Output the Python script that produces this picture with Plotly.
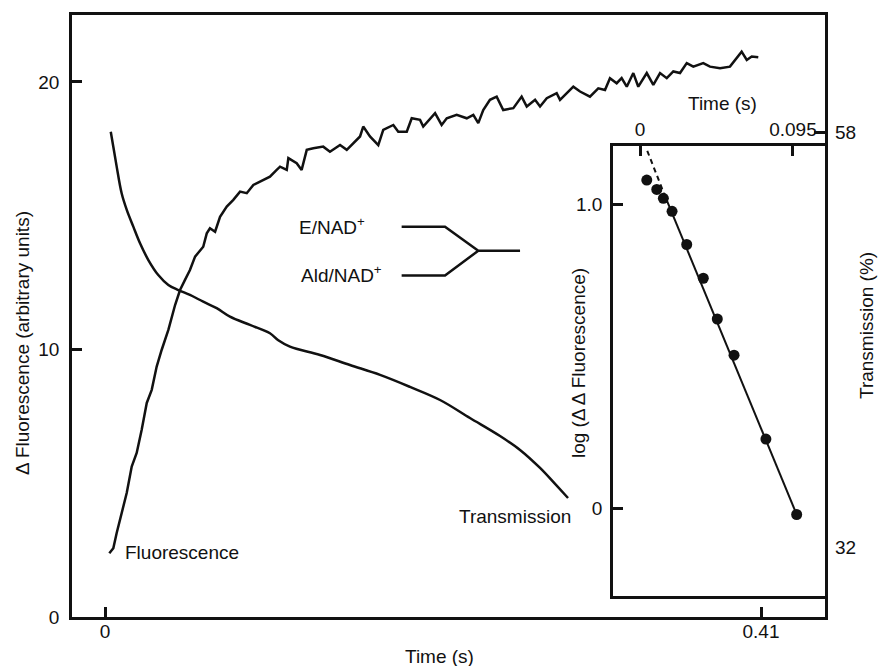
import plotly.graph_objects as go

# ---------------- data ----------------
fluor_t = [0.0027, 0.0052, 0.0073, 0.0104, 0.0136, 0.0167, 0.0198, 0.0229, 0.0261, 0.0292,
           0.0323, 0.0354, 0.0396, 0.0438, 0.0469, 0.0500, 0.0531, 0.0563, 0.0583, 0.0614,
           0.0636, 0.0656, 0.0688, 0.0719, 0.0761, 0.0802, 0.0844, 0.0886, 0.0927, 0.0989,
           0.1031, 0.1073, 0.1094, 0.1136, 0.1146, 0.1198, 0.1229, 0.1261, 0.1302, 0.1364,
           0.1406, 0.1469, 0.1511, 0.1594, 0.1614, 0.1656, 0.1708, 0.1739, 0.1802, 0.1833,
           0.1886, 0.1917, 0.1969, 0.1989, 0.2063, 0.2104, 0.2136, 0.2198, 0.2261, 0.2302,
           0.2333, 0.2364, 0.2406, 0.2448, 0.2489, 0.2552, 0.2604, 0.2636, 0.2688, 0.2719,
           0.2761, 0.2823, 0.2844, 0.2927, 0.2969, 0.3031, 0.3083, 0.3125, 0.3156, 0.3198,
           0.3229, 0.3261, 0.3302, 0.3333, 0.3386, 0.3427, 0.3469, 0.3511, 0.3552, 0.3594,
           0.3636, 0.3677, 0.3739, 0.3781, 0.3844, 0.3906, 0.3938, 0.3979, 0.4011, 0.4042,
           0.4083]
fluor_v = [2.38, 2.57, 3.14, 3.89, 4.64, 5.62, 6.13, 6.99, 8.00, 8.49,
           9.36, 9.98, 10.73, 11.66, 12.22, 12.60, 12.97, 13.47, 13.60, 13.84,
           14.34, 14.53, 14.40, 14.96, 15.34, 15.59, 15.90, 15.84, 16.15, 16.34,
           16.46, 16.71, 16.83, 16.71, 17.15, 16.96, 16.71, 17.46, 17.52, 17.58,
           17.39, 17.64, 17.46, 17.96, 18.33, 17.96, 17.64, 18.21, 18.39, 18.14,
           18.14, 18.64, 18.58, 18.33, 18.83, 18.39, 18.64, 18.77, 18.64, 18.77,
           18.46, 18.95, 19.33, 19.45, 18.95, 19.02, 19.45, 19.08, 19.33, 19.08,
           19.39, 19.58, 19.33, 19.82, 19.64, 19.45, 19.76, 19.70, 20.14, 19.95,
           20.14, 19.82, 20.33, 19.82, 20.33, 19.89, 20.33, 20.14, 20.39, 20.33,
           20.70, 20.57, 20.70, 20.57, 20.51, 20.57, 20.82, 21.13, 20.82, 20.95,
           20.92]

trans_t = [0.0036, 0.0052, 0.0073, 0.0104, 0.0136, 0.0177, 0.0219, 0.0271, 0.0333, 0.0396,
           0.0458, 0.0531, 0.0614, 0.0698, 0.0781, 0.0906, 0.1031, 0.1083, 0.1156, 0.1344,
           0.1531, 0.1719, 0.1906, 0.2094, 0.2281, 0.2469, 0.2594, 0.2719, 0.2813, 0.2894]
trans_v = [58.02, 57.08, 55.83, 54.16, 53.12, 52.07, 51.03, 49.98, 49.04, 48.42,
           48.10, 47.79, 47.37, 46.96, 46.43, 45.91, 45.39, 44.95, 44.55, 44.03,
           43.40, 42.78, 42.03, 41.21, 40.08, 38.95, 38.08, 36.95, 35.95, 35.07]

inset_t = [0.0042, 0.0104, 0.0145, 0.0199, 0.0290, 0.0393, 0.0480, 0.0584, 0.0782, 0.0973]
inset_v = [1.079, 1.048, 1.019, 0.976, 0.867, 0.756, 0.622, 0.503, 0.227, -0.021]

fit_t = [0.0160, 0.0973]
fit_v = [1.020, -0.021]
extrap_t = [0.0045, 0.0160]
extrap_v = [1.175, 1.020]

main_xticks = [0, 0.41]
main_xticktext = ["0", "0.41"]
main_yticks = [0, 10, 20]
trans_yticks = [32, 58]
inset_xticks = [0, 0.095]
inset_xticktext = ["0", "0.095"]
inset_yticks = [0, 1.0]
inset_yticktext = ["0", "1.0"]

# ---------------- figure ----------------
FONT = "Liberation Sans, Arial, Helvetica, sans-serif"
BLK = "#111111"
LW = 2.6
FS = 19

fig = go.Figure()
fig.add_trace(go.Scatter(x=fluor_t, y=fluor_v, mode="lines",
                         line=dict(color=BLK, width=2.5), xaxis="x", yaxis="y",
                         showlegend=False, hoverinfo="skip"))
fig.add_trace(go.Scatter(x=trans_t, y=trans_v, mode="lines", line_shape="spline",
                         line=dict(color=BLK, width=2.5), xaxis="x", yaxis="y2",
                         showlegend=False, hoverinfo="skip"))
fig.add_trace(go.Scatter(x=extrap_t, y=extrap_v, mode="lines",
                         line=dict(color=BLK, width=2, dash="5px,4px"), xaxis="x2", yaxis="y3",
                         showlegend=False, hoverinfo="skip"))
fig.add_trace(go.Scatter(x=fit_t, y=fit_v, mode="lines",
                         line=dict(color=BLK, width=2), xaxis="x2", yaxis="y3",
                         showlegend=False, hoverinfo="skip"))
fig.add_trace(go.Scatter(x=inset_t, y=inset_v, mode="markers",
                         marker=dict(color=BLK, size=11), xaxis="x2", yaxis="y3",
                         showlegend=False, hoverinfo="skip"))

tickfont = dict(family=FONT, size=FS, color=BLK)
afont = dict(family=FONT, size=FS, color=BLK)

common = dict(ticks="inside", tickwidth=2.5, tickcolor=BLK, showgrid=False,
              zeroline=False, tickfont=tickfont)

fig.update_layout(
    width=886, height=666,
    margin=dict(l=72, r=61, t=15, b=49),
    paper_bgcolor="white", plot_bgcolor="white",
    font=dict(family=FONT, size=FS, color=BLK),
    xaxis=dict(domain=[0, 1], range=[-0.020625, 0.45], tickvals=main_xticks,
               ticktext=main_xticktext, ticklen=10, ticklabelstandoff=-5,
               showline=True, linewidth=LW, linecolor=BLK, mirror=True, **common),
    yaxis=dict(domain=[0, 1], range=[0, 22.5], tickvals=main_yticks, ticklen=10,
               ticklabelstandoff=6,
               showline=True, linewidth=LW, linecolor=BLK, mirror=True, **common),
    yaxis2=dict(overlaying="y", side="right", anchor="x", range=[27.614, 65.33],
                tickvals=trans_yticks, ticklen=11, ticklabelstandoff=9,
                showline=False, **common),
    xaxis2=dict(domain=[0.7185, 1], anchor="y3", side="top", range=[-0.01676, 0.1149],
                tickvals=inset_xticks, ticktext=inset_xticktext, ticklen=10,
                showline=True, linewidth=LW, linecolor=BLK, mirror=True, **common),
    yaxis3=dict(domain=[0.0349, 0.7824], anchor="x2", range=[-0.289, 1.191],
                tickvals=inset_yticks, ticktext=inset_yticktext, ticklen=10,
                ticklabelstandoff=4,
                showline=True, linewidth=LW, linecolor=BLK, mirror=True, **common),
)

# axis titles (placed as annotations for exact positioning)
fig.add_annotation(x=-0.0664, y=0.4551, xref="paper", yref="paper", textangle=-90,
                   text="Δ Fluorescence (arbitrary units)", showarrow=False,
                   xanchor="center", yanchor="middle", font=afont)
fig.add_annotation(x=0.4887, y=-0.0664, xref="paper", yref="paper",
                   text="Time (s)", showarrow=False,
                   xanchor="center", yanchor="middle", font=afont)
fig.add_annotation(x=1.0544, y=0.485, xref="paper", yref="paper", textangle=-90,
                   text="Transmission (%)", showarrow=False,
                   xanchor="center", yanchor="middle", font=afont)
fig.add_annotation(x=0.672, y=0.4219, xref="paper", yref="paper", textangle=-90,
                   text="log (Δ Δ Fluorescence)", showarrow=False,
                   xanchor="center", yanchor="middle", font=afont)
fig.add_annotation(x=0.8645, y=0.8522, xref="paper", yref="paper",
                   text="Time (s)", showarrow=False,
                   xanchor="center", yanchor="middle", font=afont)

# curve labels
fig.add_annotation(x=0.0113, y=2.42, xref="x", yref="y", text="Fluorescence",
                   showarrow=False, xanchor="left", yanchor="middle", font=afont)
fig.add_annotation(x=0.2200, y=3.75, xref="x", yref="y", text="Transmission",
                   showarrow=False, xanchor="left", yanchor="middle", font=afont)
fig.add_annotation(x=0.1200, y=14.62, xref="x", yref="y", text="E/NAD<sup>+</sup>",
                   showarrow=False, xanchor="left", yanchor="middle", font=afont)
fig.add_annotation(x=0.1212, y=12.82, xref="x", yref="y", text="Ald/NAD<sup>+</sup>",
                   showarrow=False, xanchor="left", yanchor="middle", font=afont)

# mixing-scheme bracket
fig.add_shape(type="path", xref="x", yref="y",
              path="M 0.1854 14.59 L 0.2125 14.59 L 0.2333 13.69 L 0.2594 13.69",
              line=dict(color=BLK, width=2.5))
fig.add_shape(type="path", xref="x", yref="y",
              path="M 0.1854 12.76 L 0.2125 12.76 L 0.2333 13.69",
              line=dict(color=BLK, width=2.5))

fig.write_html("out.html")
